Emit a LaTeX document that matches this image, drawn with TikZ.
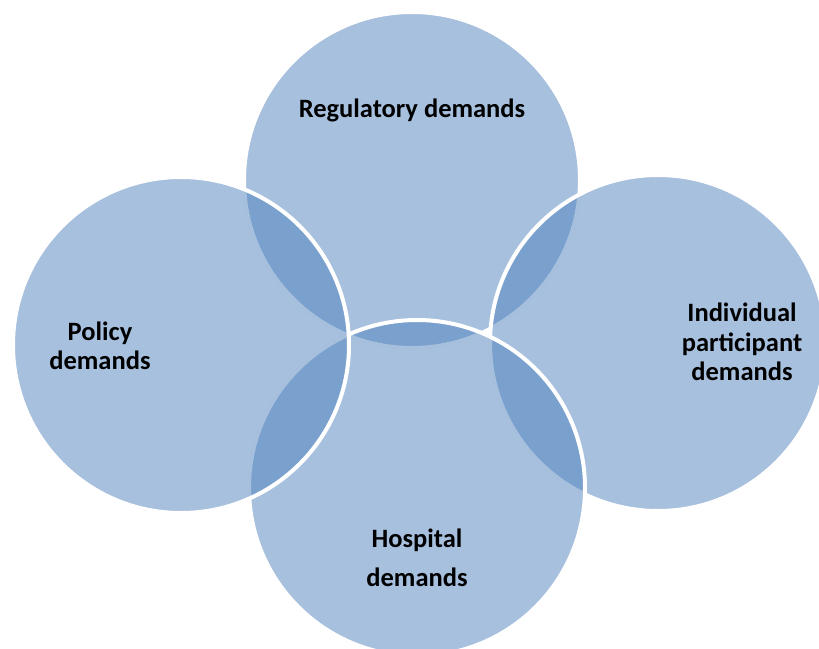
\documentclass[tikz,border=0pt]{standalone}
\usepackage{fontspec}
\setmainfont{Carlito}
\definecolor{vennblue}{HTML}{4F81BD}
\tikzset{
  ring/.style={fill=vennblue, fill opacity=0.5, draw=white, draw opacity=1, line width=4pt},
  demand/.style={font=\bfseries\fontsize{26.5}{29.5}\selectfont, align=center, text=black}
}
\begin{document}
\begin{tikzpicture}[x=1pt,y=-1pt]
		\useasboundingbox (0,0) rectangle (819,648);
		\clip (0,0) rectangle (819,648);
		% circles, back to front
		\draw[ring] (412,180) circle (168pt);
		\draw[ring] (658,343) circle (168pt);
		\draw[ring] (417,488) circle (168pt);
		\draw[ring] (181,345) circle (168pt);
		% labels
		\node[demand] (regulatory) at (412,110) {Regulatory demands};
		\node[demand] (policy) at (100,346) {Policy\\demands};
		\node[demand] (individual) at (742,342) {Individual\\participant\\demands};
		\node[demand] (hospital) at (417,558) {Hospital\\[9pt]demands};
\end{tikzpicture}
\end{document}
